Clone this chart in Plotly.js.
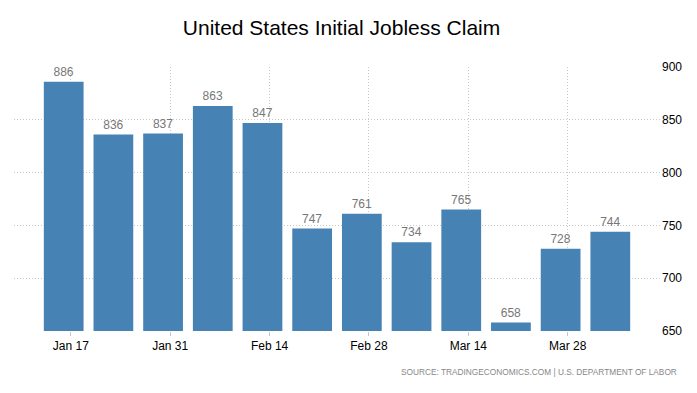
<!DOCTYPE html>
<html>
<head>
<meta charset="utf-8">
<script src="https://cdn.plot.ly/plotly-3.0.1.min.js"></script>
<style>html,body{margin:0;padding:0;background:#fff;}#chart{width:697px;height:393px;}</style>
</head>
<body>
<div id="chart"></div>
<script>
var weekEnding = ["2021-01-16","2021-01-23","2021-01-30","2021-02-06","2021-02-13","2021-02-20","2021-02-27","2021-03-06","2021-03-13","2021-03-20","2021-03-27","2021-04-03"];
var claims = [886, 836, 837, 863, 847, 747, 761, 734, 765, 658, 728, 744];
var tickDates = ["2021-01-17","2021-01-31","2021-02-14","2021-02-28","2021-03-14","2021-03-28"];
var tickLabels = ["Jan 17","Jan 31","Feb 14","Feb 28","Mar 14","Mar 28"];
var yTicks = [650, 700, 750, 800, 850, 900];

var trace = {
  type: "bar",
  x: weekEnding,
  y: claims,
  width: 5.6 * 86400000,
  marker: {color: "#4682B4"},
  text: claims.map(String),
  textposition: "outside",
  textfont: {family: "Liberation Sans, Arial, sans-serif", size: 12, color: "#777777"},
  cliponaxis: false,
  hoverinfo: "none"
};

var layout = {
  width: 697, height: 393,
  margin: {l: 14, r: 37, t: 67, b: 62},
  paper_bgcolor: "#fff", plot_bgcolor: "#fff",
  showlegend: false,
  title: {text: "United States Initial Jobless Claim", x: 0.49, xanchor: "center", y: 0.93, yanchor: "middle",
          font: {family: "Liberation Sans, Arial, sans-serif", size: 21, color: "#000"}},
  xaxis: {
    type: "date",
    range: ["2021-01-09", "2021-04-10"],
    tickmode: "array", tickvals: tickDates, ticktext: tickLabels,
    showgrid: true, gridcolor: "#c8c8c8", griddash: "1px,2px", gridwidth: 1,
    ticks: "outside", ticklen: 4, tickcolor: "#c8c8c8",
    tickfont: {family: "Liberation Sans, Arial, sans-serif", size: 12, color: "#000"},
    showline: false, zeroline: false, fixedrange: true
  },
  yaxis: {
    side: "right",
    range: [650, 900],
    tickmode: "array", tickvals: yTicks,
    showgrid: true, gridcolor: "#c8c8c8", griddash: "1px,2px", gridwidth: 1,
    ticks: "", ticklabelstandoff: 1,
    tickfont: {family: "Liberation Sans, Arial, sans-serif", size: 12, color: "#000"},
    showline: false, zeroline: false, fixedrange: true
  },
  annotations: [{
    text: "SOURCE: TRADINGECONOMICS.COM | U.S. DEPARTMENT OF LABOR",
    xref: "paper", yref: "paper", x: 1.03, y: -0.155, xanchor: "right", yanchor: "middle",
    showarrow: false,
    font: {family: "Liberation Sans, Arial, sans-serif", size: 8.3, color: "#888888"}
  }]
};

Plotly.newPlot("chart", [trace], layout, {displayModeBar: false, staticPlot: true});
</script>
</body>
</html>
